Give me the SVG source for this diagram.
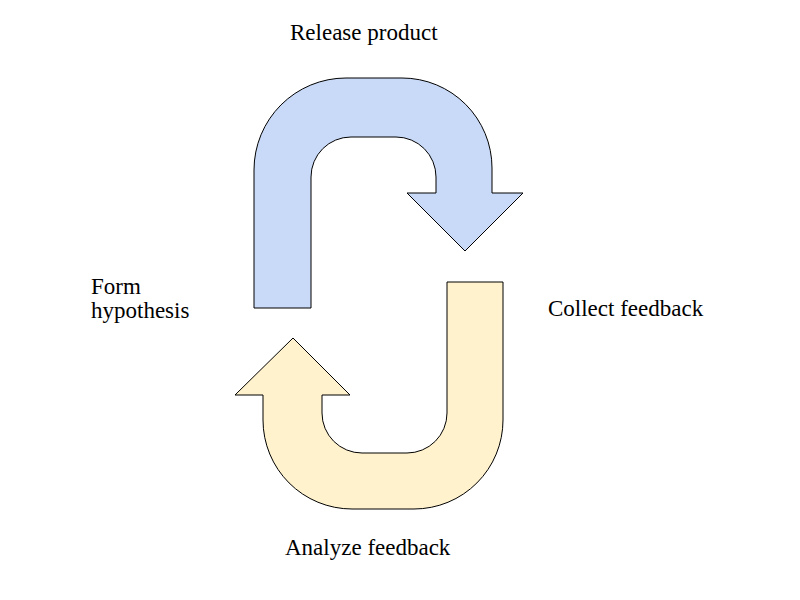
<svg xmlns="http://www.w3.org/2000/svg" width="800" height="600" viewBox="0 0 800 600">
<style>
.lbl{font-family:"Liberation Serif",serif;font-size:23px;fill:#000}
.arrow{stroke:#000;stroke-width:1;stroke-linejoin:miter}
</style>
<rect width="800" height="600" fill="#fff"/>
<g id="connectors">
<path id="blue-arrow" class="arrow" fill="#c9daf8" d="M254,308 L254,170 A92,92 0 0 1 346,78 L402,78 A90,90 0 0 1 492,168 L492,193 L523,193 L465,251 L407,193 L436,193 L436,177 A40,40 0 0 0 396,137 L351,137 A40,40 0 0 0 311,177 L311,308 Z"/>
<path id="yellow-arrow" class="arrow" fill="#fff2cc" d="M447,282 L503,282 L503,420 A89,89 0 0 1 414,509 L352,509 A89,89 0 0 1 263,420 L263,395 L235,395 L293,338 L350,395 L322,395 L322,413 A40,40 0 0 0 362,453 L407,453 A40,40 0 0 0 447,413 Z"/>
</g>
<g id="release"><text class="lbl" x="290" y="40">Release product</text></g>
<g id="collect"><text class="lbl" x="548" y="316">Collect feedback</text></g>
<g id="analyze"><text class="lbl" x="285" y="555">Analyze feedback</text></g>
<g id="form"><text class="lbl" x="91" y="294">Form</text><text class="lbl" x="91" y="318">hypothesis</text></g>
</svg>
